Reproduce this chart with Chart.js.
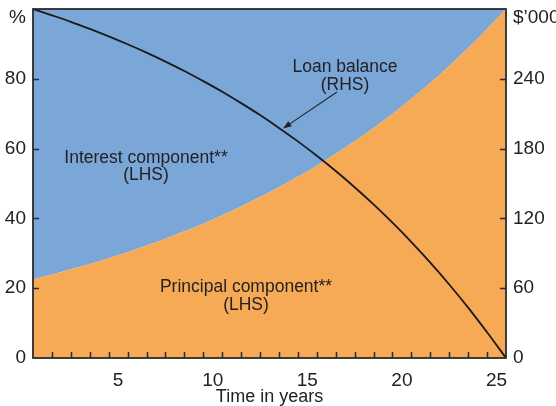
<!DOCTYPE html>
<html>
<head>
<meta charset="utf-8">
<script src="https://cdn.jsdelivr.net/npm/chart.js@4/dist/chart.umd.min.js"></script>
<style>
    html, body { margin:0; padding:0; background:#ffffff; }
    #wrap { width:556px; height:406px; }
</style>
</head>
<body>
<div id="wrap"><canvas id="chartLoan" width="556" height="406"></canvas></div>
<script>
// years 0..25, values
var years       =   [0,1,2,3,4,5,6,7,8,9,10,11,12,13,14,15,16,17,18,19,20,21,22,23,24,25];
var principal   =   [22.5,23.9,25.4,26.9,28.6,30.3,32.2,34.2,36.3,38.5,40.9,43.4,46.1,48.9,51.9,55.1,58.5,62.1,65.9,69.9,74.3,78.8,83.7,88.8,94.3,100];
var interest    =   [77.5,76.1,74.6,73.1,71.4,69.7,67.8,65.8,63.7,61.5,59.1,56.6,53.9,51.1,48.1,44.9,41.5,37.9,34.1,30.1,25.7,21.2,16.3,11.2,5.7,0];
var balance     =   [300,294.6,289.0,282.9,276.5,269.7,262.5,254.8,246.7,238.0,228.9,219.1,208.8,197.8,186.2,173.8,160.7,146.8,132.0,116.3,99.7,82.0,63.2,43.3,22.1,0];

var xTickPos    =   [4.5,9.5,14.5,19.5,24.5];
var xTickLabels =   ['5','10','15','20','25'];
var leftTicks   =   [0,20,40,60,80];
var rightTicks  =   [0,60,120,180,240];

var inkColor    =   '#222222';
var blueColor   =   '#7ba6d8';
var orangeColor =   '#f7aa55';
var fontFamily  =   '"Liberation Sans", Arial, sans-serif';

var framePlugin = {
    id: 'framePlugin',
    afterDatasetsDraw: function (chart) {
        var ctx     =   chart.ctx;
        var area    =   chart.chartArea;
        var xs      =   chart.scales.x;
        var yl      =   chart.scales.y;
        var yr      =   chart.scales.y1;
        ctx.save();
        ctx.strokeStyle =   '#2b2b2b';
        ctx.lineWidth   =   1.5;

        // inward tick marks
        ctx.beginPath();
        for (var i = 1; i < 25; i++) {
            var px = Math.round(xs.getPixelForValue(i)) + 0.5;
            ctx.moveTo(px, area.bottom);
            ctx.lineTo(px, area.bottom - 6);
        }
        [20,40,60,80].forEach(v => {
            var py = Math.round(yl.getPixelForValue(v)) + 0.5;
            ctx.moveTo(area.left, py);
            ctx.lineTo(area.left + 6, py);
        });
        [60,120,180,240].forEach(v => {
            var py = Math.round(yr.getPixelForValue(v)) + 0.5;
            ctx.moveTo(area.right, py);
            ctx.lineTo(area.right - 6, py);
        });
        ctx.stroke();

        ctx.lineWidth   =   1.8;
        ctx.strokeRect(area.left, area.top, area.right - area.left, area.bottom - area.top);

        // unit labels
        ctx.fillStyle   =   inkColor;
        ctx.font        =   '19px ' + fontFamily;
        ctx.textBaseline=   'middle';
        ctx.textAlign   =   'right';
        ctx.fillText('%', 26, 18);
        ctx.textAlign   =   'left';
        ctx.fillText('$\u2019000', 513, 18);

        // annotations
        ctx.font        =   '17.5px ' + fontFamily;
        ctx.textAlign   =   'center';
        ctx.textBaseline=   'alphabetic';
        ctx.fillText('Loan balance', 345, 72);
        ctx.fillText('(RHS)', 345, 90);
        ctx.fillText('Interest component**', 146, 163);
        ctx.fillText('(LHS)', 146, 180);
        ctx.fillText('Principal component**', 246, 292);
        ctx.fillText('(LHS)', 246, 310);

        // arrow
        var x0 = 337, y0 = 92, x1 = 283, y1 = 128.5;
        var ang = Math.atan2(y1 - y0, x1 - x0);
        ctx.strokeStyle =   inkColor;
        ctx.lineWidth   =   1.1;
        ctx.beginPath();
        ctx.moveTo(x0, y0);
        ctx.lineTo(x1 - 6 * Math.cos(ang), y1 - 6 * Math.sin(ang));
        ctx.stroke();
        ctx.beginPath();
        ctx.moveTo(x1, y1);
        ctx.lineTo(x1 - 9 * Math.cos(ang - 0.35), y1 - 9 * Math.sin(ang - 0.35));
        ctx.lineTo(x1 - 9 * Math.cos(ang + 0.35), y1 - 9 * Math.sin(ang + 0.35));
        ctx.closePath();
        ctx.fillStyle   =   inkColor;
        ctx.fill();
        ctx.restore();
    }
};

function fitSide(width) {
    return function (scale) {
        scale.width         =   width;
        scale.paddingTop    =   9;
        scale.paddingBottom =   0;
    };
}

var loanChart = document.getElementById('chartLoan').getContext('2d');
new Chart(loanChart, {
    type: 'line',
    data: {
        labels: years,
        datasets: [{
            label           :   'Loan balance',
            data            :   balance,
            yAxisID         :   'y1',
            borderColor     :   '#1a1a1a',
            borderWidth     :   1.8,
            pointRadius     :   0,
            cubicInterpolationMode: 'monotone',
            fill            :   false
        }, {
            label           :   'Principal component',
            data            :   principal,
            yAxisID         :   'y',
            borderWidth     :   0,
            pointRadius     :   0,
            backgroundColor :   orangeColor,
            fill            :   'origin',
            cubicInterpolationMode: 'monotone'
        }, {
            label           :   'Interest component',
            data            :   interest,
            yAxisID         :   'y',
            borderWidth     :   0,
            pointRadius     :   0,
            backgroundColor :   blueColor,
            fill            :   '-1',
            cubicInterpolationMode: 'monotone'
        }]
    },
    options: {
        responsive: false,
        animation: false,
        layout: { autoPadding: false, padding: 0 },
        plugins: {
            legend: { display: false },
            tooltip: { enabled: false }
        },
        scales: {
            x: {
                type: 'linear',
                min: 0,
                max: 25,
                grid: { display: false, drawTicks: false },
                border: { display: false },
                afterBuildTicks: function (scale) {
                    scale.ticks = xTickPos.map(v => ({ value: v }));
                },
                afterFit: function (scale) { scale.height = 48; },
                ticks: {
                    autoSkip: false,
                    maxRotation: 0,
                    padding: 11,
                    color: inkColor,
                    font: { family: fontFamily, size: 19 },
                    callback: function (value, index) { return xTickLabels[index]; }
                },
                title: {
                    display: true,
                    text: 'Time in years',
                    color: inkColor,
                    padding: { top: 0, bottom: -2 },
                    font: { family: fontFamily, size: 18 }
                }
            },
            y: {
                position: 'left',
                stacked: true,
                min: 0,
                max: 100,
                grid: { display: false, drawTicks: false },
                border: { display: false },
                afterBuildTicks: function (scale) {
                    scale.ticks = leftTicks.map(v => ({ value: v }));
                },
                afterFit: fitSide(33),
                ticks: {
                    padding: 7,
                    color: inkColor,
                    font: { family: fontFamily, size: 19 }
                }
            },
            y1: {
                position: 'right',
                min: 0,
                max: 300,
                grid: { display: false, drawTicks: false },
                border: { display: false },
                afterBuildTicks: function (scale) {
                    scale.ticks = rightTicks.map(v => ({ value: v }));
                },
                afterFit: fitSide(50),
                ticks: {
                    padding: 7,
                    color: inkColor,
                    font: { family: fontFamily, size: 19 }
                }
            }
        }
    },
    plugins: [framePlugin]
});
</script>
</body>
</html>
